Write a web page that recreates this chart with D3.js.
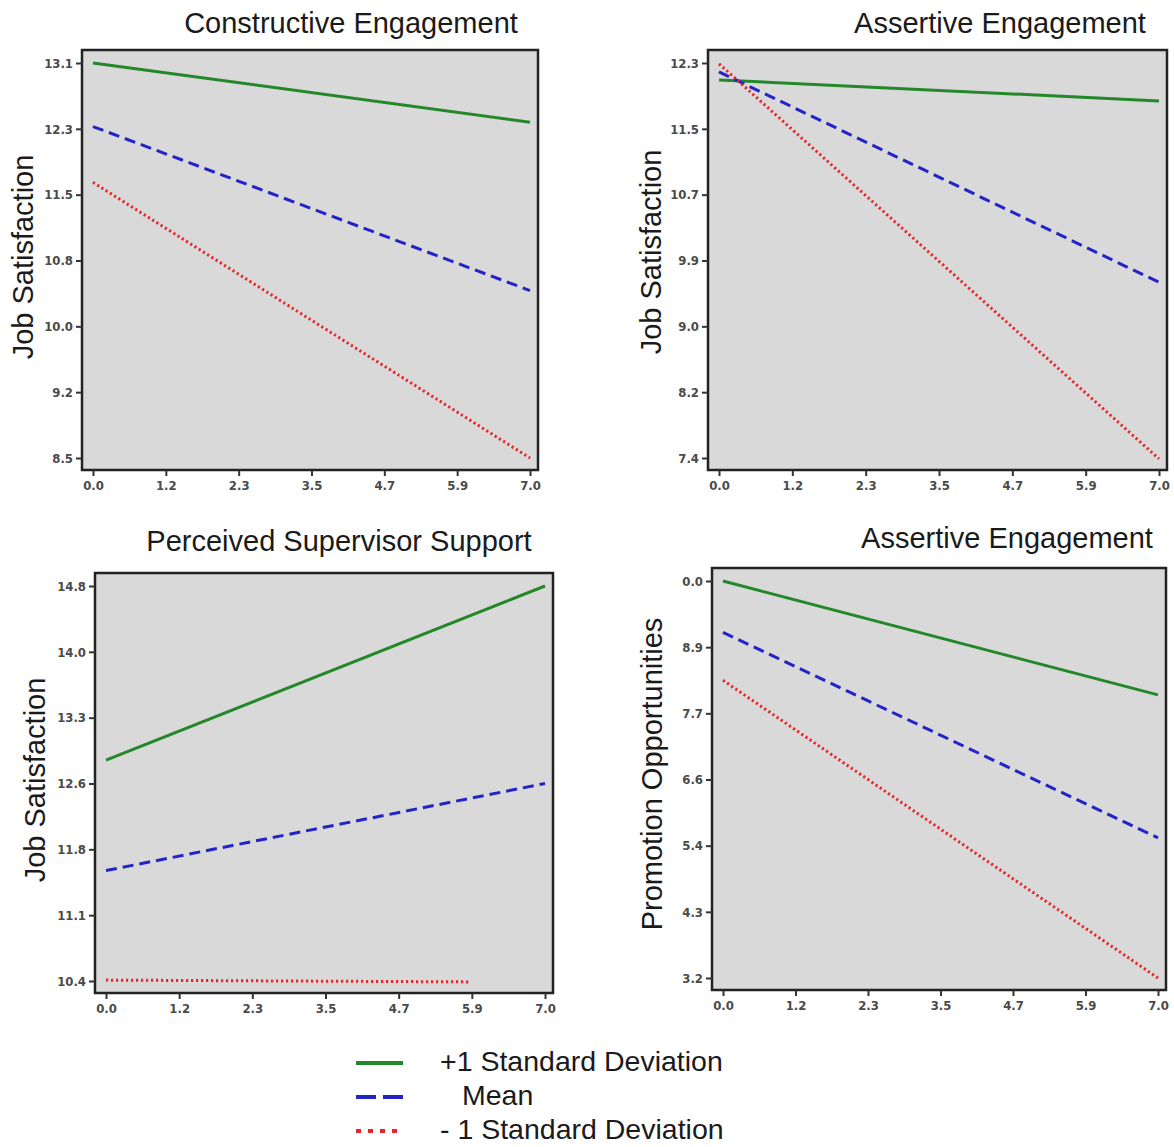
<!DOCTYPE html>
<html lang="en">
<head>
  <meta charset="UTF-8">
  <title>Simple slopes</title>
</head>
<style>
  body {
    margin: 0;
    background: #fff;
  }
  svg {
    display: block;
  }
  .title, .ylab, .legend text {
    font-family: "Liberation Sans", Arial, sans-serif;
    fill: #1a1a1a;
  }
  .tick text {
    font-family: "DejaVu Sans Condensed", "DejaVu Sans", sans-serif;
    font-size: 13px;
    font-weight: bold;
    fill: #4a4a4a;
  }
  .tick line {
    stroke: #333;
    stroke-width: 2;
  }
</style>
<body>
<svg width="1174" height="1147"></svg>
<script src="https://cdn.jsdelivr.net/npm/d3@7"></script>
<script>
  const svg = d3.select('svg');

  const xTickLabels = ['0.0', '1.2', '2.3', '3.5', '4.7', '5.9', '7.0'];

  // panel 1: constructive engagement -> job satisfaction
  const ceTicks = ['8.5', '9.2', '10.0', '10.8', '11.5', '12.3', '13.1'];
  const ceHigh = [[0, 13.1], [7, 12.41]];
  const ceMean = [[0, 12.36], [7, 10.45]];
  const ceLow = [[0, 11.71], [7, 8.5]];

  // panel 2: assertive engagement -> job satisfaction
  const aeTicks = ['7.4', '8.2', '9.0', '9.9', '10.7', '11.5', '12.3'];
  const aeHigh = [[0, 12.09], [7, 11.83]];
  const aeMean = [[0, 12.19], [7, 9.58]];
  const aeLow = [[0, 12.29], [7, 7.39]];

  // panel 3: perceived supervisor support -> job satisfaction
  const pssTicks = ['10.4', '11.1', '11.8', '12.6', '13.3', '14.0', '14.8'];
  const pssHigh = [[0, 12.86], [7, 14.8]];
  const pssMean = [[0, 11.63], [7, 12.6]];
  const pssLow = [[0, 10.41], [5.8, 10.39]];

  // panel 4: assertive engagement -> promotion opportunities
  const poTicks = ['3.2', '4.3', '5.4', '6.6', '7.7', '8.9', '0.0'];
  const poHigh = [[0, 10.0], [7, 8.05]];
  const poMean = [[0, 9.12], [7, 5.6]];
  const poLow = [[0, 8.3], [7, 3.2]];

  const seriesNames = ['+1 Standard Deviation', 'Mean', '- 1 Standard Deviation'];

  const styles = [
    {color: '#24882a', dash: null, legendDash: null},
    {color: '#2323c8', dash: '11,6', legendDash: '20,7'},
    {color: '#e8252a', dash: '2.2,2.8', legendDash: '5,7'}
  ];

  const panels = [
    {title: 'Constructive Engagement', ylab: 'Job Satisfaction', ticks: ceTicks, yDomain: [8.5, 13.1],
      lines: [ceHigh, ceMean, ceLow], box: [82, 50, 538, 470], titleX: 351, titleY: 33, ylabX: 33, ylabY: 257},
    {title: 'Assertive Engagement', ylab: 'Job Satisfaction', ticks: aeTicks, yDomain: [7.4, 12.3],
      lines: [aeHigh, aeMean, aeLow], box: [708, 50, 1167, 470], titleX: 1000, titleY: 33, ylabX: 661, ylabY: 252},
    {title: 'Perceived Supervisor Support', ylab: 'Job Satisfaction', ticks: pssTicks, yDomain: [10.4, 14.8],
      lines: [pssHigh, pssMean, pssLow], box: [95, 573, 553, 993], titleX: 339, titleY: 551, ylabX: 45, ylabY: 780},
    {title: 'Assertive Engagement', ylab: 'Promotion Opportunities', ticks: poTicks, yDomain: [3.2, 10.0],
      lines: [poHigh, poMean, poLow], box: [712, 568, 1166, 990], titleX: 1007, titleY: 548, ylabX: 662, ylabY: 774}
  ];

  panels.forEach(p => {
    const [x0, y0, x1, y1] = p.box;
    const g = svg.append('g');

    const x = d3.scaleLinear().domain([0, 7]).range([x0 + 11, x1 - 8]);
    const y = d3.scaleLinear().domain(p.yDomain).range([y1 - 12, y0 + 13]);

    const xVals = d3.range(xTickLabels.length).map(i => 7 * i / (xTickLabels.length - 1));
    const yVals = d3.range(p.ticks.length).map(i =>
      p.yDomain[0] + (p.yDomain[1] - p.yDomain[0]) * i / (p.ticks.length - 1));

    g.append('rect')
      .attr('x', x0).attr('y', y0)
      .attr('width', x1 - x0).attr('height', y1 - y0)
      .style('fill', '#d9d9d9');

    const line = d3.line().x(d => x(d[0])).y(d => y(d[1]));
    p.lines.forEach((pts, i) => {
      g.append('path')
        .attr('d', line(pts))
        .style('fill', 'none')
        .style('stroke', styles[i].color)
        .style('stroke-width', 3)
        .style('stroke-dasharray', styles[i].dash);
    });

    g.append('rect')
      .attr('x', x0).attr('y', y0)
      .attr('width', x1 - x0).attr('height', y1 - y0)
      .style('fill', 'none')
      .style('stroke', '#222')
      .style('stroke-width', 2.5);

    const xAxis = g.append('g')
      .attr('transform', `translate(0,${y1})`)
      .call(d3.axisBottom(x).tickValues(xVals).tickFormat((d, i) => xTickLabels[i]).tickSize(6).tickPadding(5));
    xAxis.select('.domain').remove();

    const yAxis = g.append('g')
      .attr('transform', `translate(${x0},0)`)
      .call(d3.axisLeft(y).tickValues(yVals).tickFormat((d, i) => p.ticks[i]).tickSize(6).tickPadding(3));
    yAxis.select('.domain').remove();

    g.append('text')
      .attr('class', 'title')
      .attr('x', p.titleX).attr('y', p.titleY)
      .attr('text-anchor', 'middle')
      .style('font-size', '29px')
      .text(p.title);

    g.append('text')
      .attr('class', 'ylab')
      .attr('transform', `translate(${p.ylabX},${p.ylabY}) rotate(-90)`)
      .attr('text-anchor', 'middle')
      .style('font-size', '29px')
      .text(p.ylab);
  });

  // legend
  const legend = svg.append('g').attr('class', 'legend');
  const legendY = [1063, 1097, 1131];
  const legendTextX = [440, 462, 440];
  seriesNames.forEach((name, i) => {
    legend.append('line')
      .attr('x1', 356).attr('x2', 403)
      .attr('y1', legendY[i]).attr('y2', legendY[i])
      .style('stroke', styles[i].color)
      .style('stroke-width', 4)
      .style('stroke-dasharray', styles[i].legendDash);
    legend.append('text')
      .attr('x', legendTextX[i]).attr('y', legendY[i] + 8)
      .style('font-size', '28.5px')
      .text(name);
  });
</script>
</body>
</html>
